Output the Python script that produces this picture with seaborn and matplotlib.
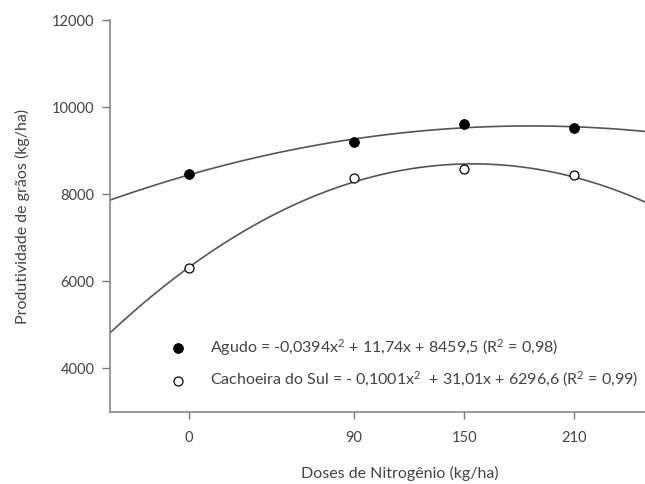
import numpy as np
import pandas as pd
import seaborn as sns
import matplotlib.pyplot as plt

# --- dados ---
doses = [0, 90, 150, 210]
agudo = [8459, 9200, 9606, 9520]
cachoeira = [6298, 8383, 8573, 8436]
yticks = [4000, 6000, 8000, 10000, 12000]

label_agudo = "Agudo = -0,0394x$^2$ + 11,74x + 8459,5 (R$^2$ = 0,98)"
label_cach = "Cachoeira do Sul = - 0,1001x$^2$  + 31,01x + 6296,6 (R$^2$ = 0,99)"

sns.set_style("white")
plt.rcParams['font.family'] = ['Lato', 'DejaVu Sans']
plt.rcParams['mathtext.fontset'] = 'custom'
plt.rcParams['mathtext.rm'] = 'Lato'
plt.rcParams['mathtext.it'] = 'Lato:italic'

df = pd.DataFrame({'dose': doses, 'agudo': agudo, 'cachoeira': cachoeira})

fig = plt.figure(figsize=(6.45, 4.84), dpi=100)
ax = fig.add_axes([110 / 645, 1 - 412 / 484, 580 / 645, 392 / 484])
ax.set_xlim(-43, -43 + 580 / 1.835)
ax.set_ylim(3000, 12000)

# curvas de ajuste quadratico
line_kws = dict(color='#555555', lw=1.2)
sns.regplot(data=df, x='dose', y='agudo', order=2, ci=None, scatter=False,
            truncate=False, line_kws=line_kws, ax=ax)
sns.regplot(data=df, x='dose', y='cachoeira', order=2, ci=None, scatter=False,
            truncate=False, line_kws=line_kws, ax=ax)

sns.scatterplot(data=df, x='dose', y='agudo', color='black', edgecolor='black',
                s=50, label=label_agudo, ax=ax, zorder=3)
sns.scatterplot(data=df, x='dose', y='cachoeira', color='white', edgecolor='black',
                linewidth=0.9, s=42, label=label_cach, ax=ax, zorder=3)

ax.set_xticks(doses)
ax.set_yticks(yticks)
ax.tick_params(axis='x', direction='out', length=5, width=1, color='#777777',
               pad=9, labelsize=10.5, labelcolor='#444444', bottom=True)
ax.tick_params(axis='y', direction='out', length=6, width=1, color='#777777',
               pad=5, labelsize=10.5, labelcolor='#444444', left=True)

for side in ['top', 'right']:
    ax.spines[side].set_visible(False)
for side in ['left', 'bottom']:
    ax.spines[side].set_color('#888888')
    ax.spines[side].set_linewidth(1.2)

ax.set_xlabel('Doses de Nitrogênio (kg/ha)', fontsize=11.5, color='#444444', labelpad=15)
ax.set_ylabel('Produtividade de grãos (kg/ha)', fontsize=11.5, color='#444444', labelpad=16)

ax.legend(loc='upper left', bbox_to_anchor=(162 / 645, 1 - 337 / 484),
          bbox_transform=fig.transFigure, frameon=False, fontsize=11.5,
          labelcolor='#444444', handletextpad=1.0, labelspacing=0.75,
          borderpad=0, borderaxespad=0)

fig.savefig('out.png', dpi=100)
